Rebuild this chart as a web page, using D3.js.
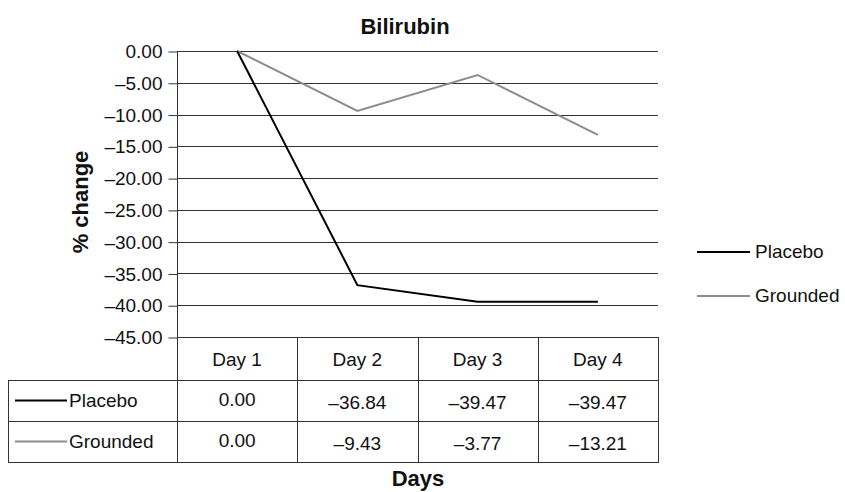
<!DOCTYPE html>
<html>
<head>
<meta charset="utf-8">
<script src="https://cdn.jsdelivr.net/npm/d3@7"></script>
<style>
  body { margin: 0; background: #fff; }
  text { font-family: "Liberation Sans", Arial, sans-serif; fill: #111; }
</style>
</head>
<body>
<svg id="chart" width="845" height="492"></svg>
<script>
var days = ['Day 1', 'Day 2', 'Day 3', 'Day 4'];
var seriesNames = ['Placebo', 'Grounded'];
var placebo = [0.00, -36.84, -39.47, -39.47];
var grounded = [0.00, -9.43, -3.77, -13.21];
var yTicks = [0, -5, -10, -15, -20, -25, -30, -35, -40, -45];

var colors = { Placebo: '#000', Grounded: '#8c8c8c' };
var values = { Placebo: placebo, Grounded: grounded };

var svg = d3.select('#chart');
// note: don't call these top/bottom, window.top is read-only
var plotL = 177, plotR = 658, plotT = 51, plotB = 337;
var rowY = [337, 380, 421, 462];
var labelLeft = 8;
var fontSize = '19px';

var x = d3.scaleBand().domain(days).range([plotL, plotR]);
var y = d3.scaleLinear().domain([-45, 0]).range([plotB, plotT]);

function fmt(v) {
  var s = Math.abs(v).toFixed(2);
  return v < 0 ? '\u2013' + s : s;
}

// gridlines
svg.append('g')
  .selectAll('line')
  .data(yTicks)
  .join('line')
  .attr('x1', plotL).attr('x2', plotR)
  .attr('y1', function (d) { return Math.round(y(d)) + 0.5; })
  .attr('y2', function (d) { return Math.round(y(d)) + 0.5; })
  .attr('stroke', '#333').attr('stroke-width', 1);

// y axis
var yAxis = svg.append('g')
  .attr('transform', 'translate(' + (plotL + 0.5) + ',0.5)')
  .call(d3.axisLeft(y).tickValues(yTicks).tickFormat(fmt).tickSize(9).tickPadding(6));
yAxis.select('.domain').remove();
yAxis.selectAll('line').attr('stroke', '#333');
yAxis.selectAll('text')
  .style('font-family', '"Liberation Sans", Arial, sans-serif')
  .style('font-size', fontSize).attr('fill', '#111');

svg.append('line')
  .attr('x1', plotL + 0.5).attr('x2', plotL + 0.5)
  .attr('y1', plotT).attr('y2', rowY[3])
  .attr('stroke', '#333');

// series lines
var line = d3.line()
  .x(function (d, i) { return x(days[i]) + x.bandwidth() / 2; })
  .y(function (d) { return y(d); });

seriesNames.slice().reverse().forEach(function (name) {
  svg.append('path')
    .datum(values[name])
    .attr('d', line)
    .attr('fill', 'none')
    .attr('stroke', colors[name])
    .attr('stroke-width', 2);
});

// data table
var tbl = svg.append('g').attr('stroke', '#333').attr('stroke-width', 1);
days.concat(['end']).forEach(function (d, i) {
  var xx = i < days.length ? x(d) : plotR;
  tbl.append('line')
    .attr('x1', Math.round(xx) + 0.5).attr('x2', Math.round(xx) + 0.5)
    .attr('y1', rowY[0]).attr('y2', rowY[3]);
});
tbl.append('line')
  .attr('x1', labelLeft + 0.5).attr('x2', labelLeft + 0.5)
  .attr('y1', rowY[1]).attr('y2', rowY[3]);
[1, 2, 3].forEach(function (r) {
  tbl.append('line')
    .attr('x1', labelLeft).attr('x2', plotR + 1)
    .attr('y1', rowY[r] + 0.5).attr('y2', rowY[r] + 0.5);
});

svg.append('g')
  .selectAll('text')
  .data(days)
  .join('text')
  .attr('x', function (d) { return x(d) + x.bandwidth() / 2; })
  .attr('y', (rowY[0] + rowY[1]) / 2 + 7)
  .attr('text-anchor', 'middle')
  .style('font-size', fontSize)
  .text(function (d) { return d; });

seriesNames.forEach(function (name, r) {
  var cy = (rowY[r + 1] + rowY[r + 2]) / 2;
  svg.append('line')
    .attr('x1', 15).attr('x2', 67)
    .attr('y1', cy).attr('y2', cy)
    .attr('stroke', colors[name]).attr('stroke-width', 2);
  svg.append('text')
    .attr('x', 69).attr('y', cy + 6.5)
    .style('font-size', fontSize)
    .text(name);
  svg.append('g')
    .selectAll('text')
    .data(values[name])
    .join('text')
    .attr('x', function (d, i) { return x(days[i]) + x.bandwidth() / 2; })
    .attr('y', function (d, i) { return cy + (i === 0 ? 5.5 : 8); })
    .attr('text-anchor', 'middle')
    .style('font-size', fontSize)
    .text(fmt);
});

// legend
seriesNames.forEach(function (name, i) {
  var ly = 252 + i * 44;
  svg.append('line')
    .attr('x1', 697).attr('x2', 750)
    .attr('y1', ly).attr('y2', ly)
    .attr('stroke', colors[name]).attr('stroke-width', 2);
  svg.append('text')
    .attr('x', 755).attr('y', ly + 6)
    .style('font-size', fontSize)
    .text(name);
});

// titles
svg.append('text')
  .attr('x', 405).attr('y', 34)
  .attr('text-anchor', 'middle')
  .style('font-size', '22px').style('font-weight', 'bold')
  .text('Bilirubin');

svg.append('text')
  .attr('transform', 'translate(88,202) rotate(-90)')
  .attr('text-anchor', 'middle')
  .style('font-size', '22px').style('font-weight', 'bold')
  .text('% change');

svg.append('text')
  .attr('x', 418).attr('y', 486)
  .attr('text-anchor', 'middle')
  .style('font-size', '22px').style('font-weight', 'bold')
  .text('Days');
</script>
</body>
</html>
